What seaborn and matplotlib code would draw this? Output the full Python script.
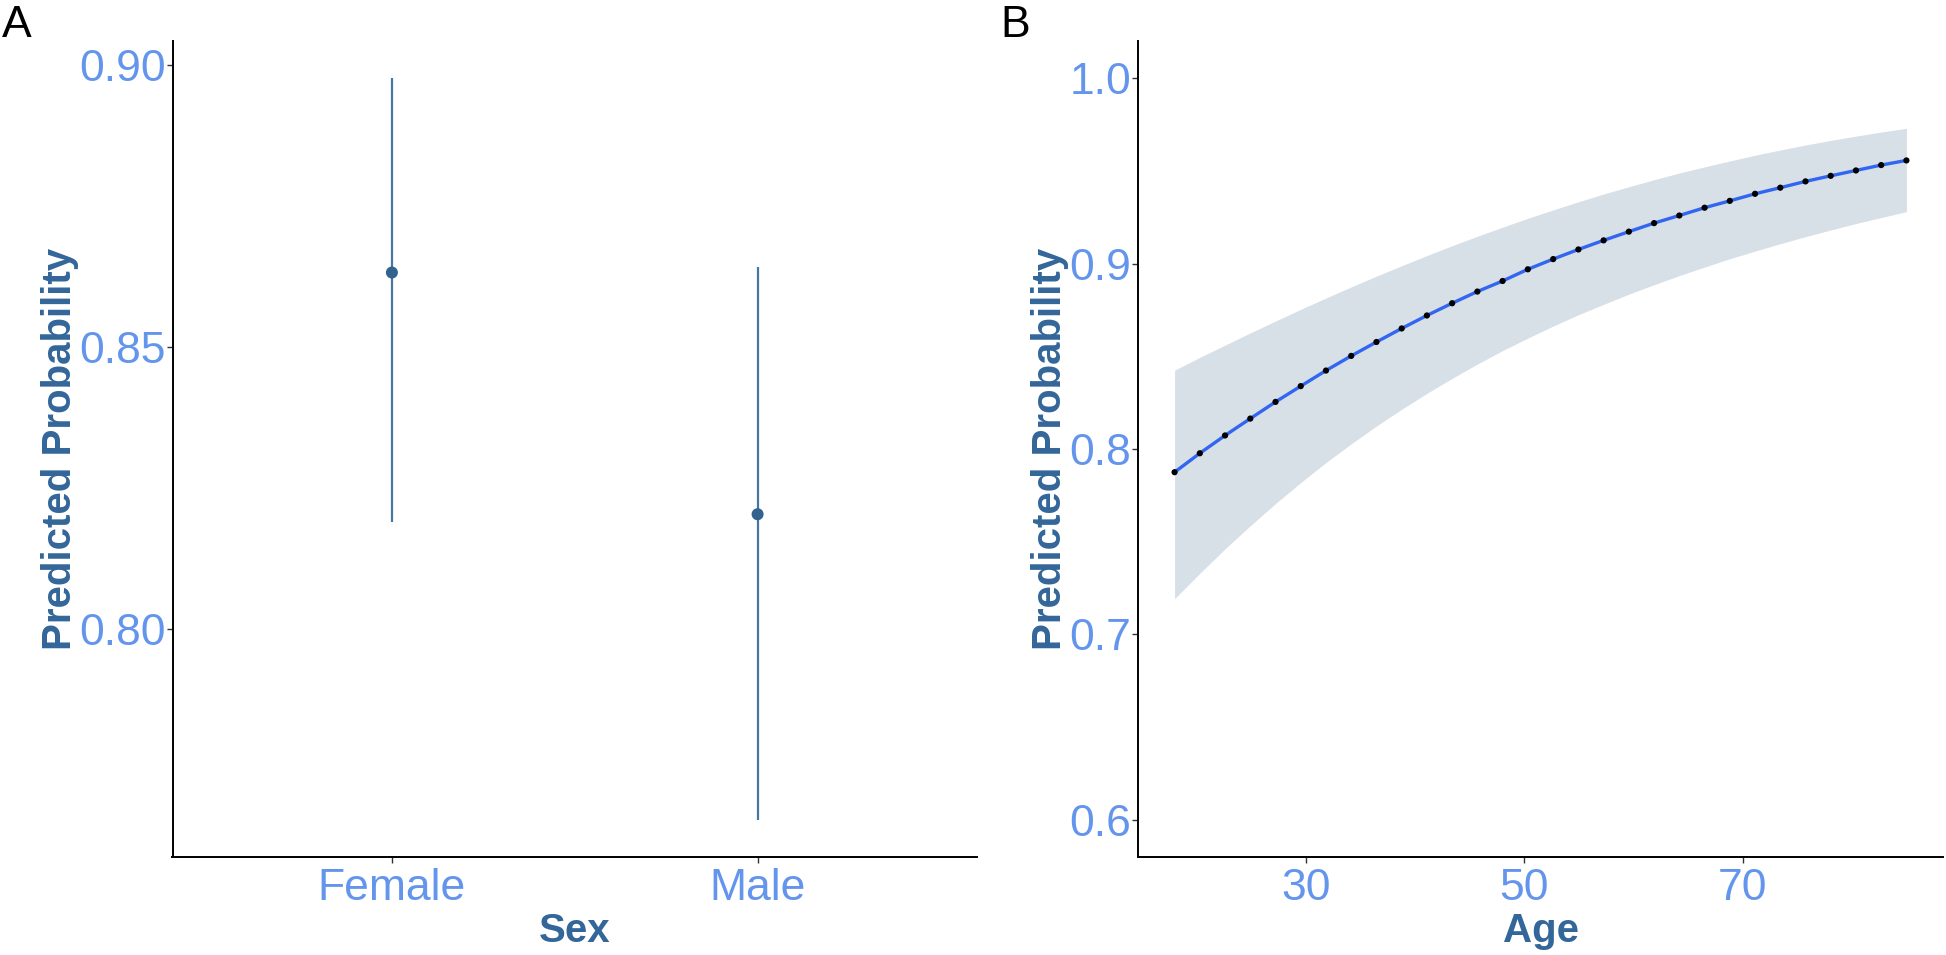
import numpy as np
import pandas as pd
import matplotlib
matplotlib.use("Agg")
import matplotlib.pyplot as plt
import seaborn as sns

# ---------------- data ----------------
sex = ["Female", "Male"]
sex_prob = [0.8632, 0.8204]
sex_low = [0.8191, 0.7663]
sex_high = [0.8976, 0.8642]

age = [18.00, 20.31, 22.62, 24.93, 27.24, 29.55, 31.86, 34.17, 36.48, 38.79,
       41.10, 43.41, 45.72, 48.03, 50.34, 52.66, 54.97, 57.28, 59.59, 61.90,
       64.21, 66.52, 68.83, 71.14, 73.45, 75.76, 78.07, 80.38, 82.69, 85.00]
age_prob = [0.7875, 0.7977, 0.8073, 0.8164, 0.8254, 0.8339, 0.8423, 0.8502, 0.8577, 0.8650,
            0.8720, 0.8786, 0.8849, 0.8906, 0.8969, 0.9024, 0.9076, 0.9125, 0.9172, 0.9218,
            0.9259, 0.9301, 0.9338, 0.9376, 0.9409, 0.9443, 0.9473, 0.9502, 0.9531, 0.9556]
age_low = [0.7193, 0.7330, 0.7462, 0.7586, 0.7706, 0.7819, 0.7927, 0.8028, 0.8124, 0.8214,
           0.8300, 0.8381, 0.8458, 0.8531, 0.8598, 0.8663, 0.8724, 0.8780, 0.8835, 0.8886,
           0.8935, 0.8981, 0.9026, 0.9067, 0.9107, 0.9145, 0.9181, 0.9216, 0.9248, 0.9280]
age_high = [0.8425, 0.8494, 0.8560, 0.8626, 0.8690, 0.8753, 0.8814, 0.8874, 0.8932, 0.8988,
            0.9043, 0.9096, 0.9147, 0.9196, 0.9244, 0.9289, 0.9333, 0.9375, 0.9414, 0.9452,
            0.9488, 0.9521, 0.9553, 0.9584, 0.9612, 0.9639, 0.9664, 0.9687, 0.9709, 0.9729]

a_yticks = [0.80, 0.85, 0.90]
a_yticklabels = ["0.80", "0.85", "0.90"]
b_yticks = [0.6, 0.7, 0.8, 0.9, 1.0]
b_yticklabels = ["0.6", "0.7", "0.8", "0.9", "1.0"]
b_xticks = [30, 50, 70]
b_xticklabels = ["30", "50", "70"]

# ---------------- style ----------------
sns.set_style("ticks")
plt.rcParams["font.family"] = ["Liberation Sans", "DejaVu Sans"]

TICK_COLOR = "#6495ED"
TITLE_COLOR = "#336699"
W, H = 1946, 955
fig = plt.figure(figsize=(W / 100, H / 100), dpi=100)

def ax_rect(left, right, top, bottom):
    return [left / W, (H - bottom) / H, (right - left) / W, (bottom - top) / H]

axA = fig.add_axes(ax_rect(172.5, 977, 41, 857))
axB = fig.add_axes(ax_rect(1138, 1943, 41, 857))

# ---------------- panel A ----------------
dfA = pd.DataFrame({"Sex": sex, "prob": sex_prob, "low": sex_low, "high": sex_high})
sns.scatterplot(data=dfA, x="Sex", y="prob", ax=axA, color="#32628E", s=75,
                edgecolor="none", zorder=3)
axA.vlines(x=dfA["Sex"], ymin=dfA["low"], ymax=dfA["high"], color="#4677A3", lw=1.6, zorder=2)
axA.set_xlim(-0.6, 1.6)
axA.set_ylim(0.7597, 0.9042)
axA.set_yticks(a_yticks)
axA.set_yticklabels(a_yticklabels)
axA.set_xlabel("Sex")
axA.set_ylabel("Predicted Probability")

# ---------------- panel B ----------------
dfB = pd.DataFrame({"Age": age, "prob": age_prob, "low": age_low, "high": age_high})
axB.fill_between(dfB["Age"], dfB["low"], dfB["high"], color="#D7DFE7", lw=0, zorder=1)
sns.lineplot(data=dfB, x="Age", y="prob", ax=axB, color="#3366F0", lw=2.4, zorder=2)
sns.scatterplot(data=dfB, x="Age", y="prob", ax=axB, color="black", s=20,
                edgecolor="none", zorder=3)
axB.set_xlim(14.65, 88.35)
axB.set_ylim(0.58, 1.02)
axB.set_yticks(b_yticks)
axB.set_yticklabels(b_yticklabels)
axB.set_xticks(b_xticks)
axB.set_xticklabels(b_xticklabels)
axB.set_xlabel("Age")
axB.set_ylabel("Predicted Probability")

for ax in (axA, axB):
    sns.despine(ax=ax)
    for sp in ("left", "bottom"):
        ax.spines[sp].set_color("black")
        ax.spines[sp].set_linewidth(1.4)
    ax.tick_params(axis="both", length=4, width=1.0, color="#333333",
                   labelsize=32, labelcolor=TICK_COLOR)
    ax.tick_params(axis="x", pad=4)
    ax.tick_params(axis="y", pad=1)
    ax.xaxis.label.set_fontsize(29)
    ax.yaxis.label.set_fontsize(29)
    ax.xaxis.label.set_fontweight("bold")
    ax.yaxis.label.set_fontweight("bold")
    ax.xaxis.label.set_color(TITLE_COLOR)
    ax.yaxis.label.set_color(TITLE_COLOR)
    ax.xaxis.labelpad = 2
    ax.yaxis.labelpad = 0
    ax.set_facecolor("white")

fig.text(2 / W, 1 - 5 / H, "A", fontsize=32, color="black", ha="left", va="top")
fig.text(1000 / W, 1 - 5 / H, "B", fontsize=32, color="black", ha="left", va="top")

fig.savefig("out.png", dpi=100, facecolor="white")
